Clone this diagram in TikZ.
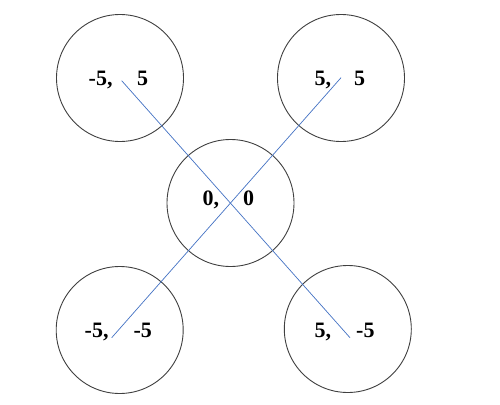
\documentclass[tikz,border=0pt]{standalone}
\usepackage{fontspec}
\setmainfont{Liberation Serif}
\begin{document}
\begin{tikzpicture}[x=1pt,y=-1pt,
  ring/.style={circle,draw=black!75,line width=0.9pt,minimum size=127pt,inner sep=0pt},
  lbl/.style={anchor=base west,inner sep=0pt,font=\bfseries\fontsize{22}{26}\selectfont},
  link/.style={draw={rgb,255:red,68;green,114;blue,196},line width=0.7pt}]
\useasboundingbox (0,0) rectangle (500,404);
\fill[white] (0,0) rectangle (500,404);
\node[ring] (tl) at (120,78) {};
\node[ring] (tr) at (341,78) {};
\node[ring] (c) at (230.5,203) {};
\node[ring] (bl) at (119.7,330) {};
\node[ring] (br) at (347.8,329) {};
\node[lbl] (ttl) at (88.5,85) {-5,\hspace{24.7pt}5};
\node[lbl] (ttr) at (314.5,85) {5,\hspace{23pt}5};
\node[lbl] (tc) at (202.5,205.5) {0,\hspace{24pt}0};
\node[lbl] (tbl) at (84.5,337) {-5,\hspace{25pt}-5};
\node[lbl] (tbr) at (314.5,337) {5,\hspace{25pt}-5};
\coordinate (ptl) at (121.7,80.7);
\coordinate (pbr) at (350,337.7);
\coordinate (ptr) at (341,77.7);
\coordinate (pbl) at (111.7,337.7);
\draw[link] (ptl) -- (pbr);
\draw[link] (ptr) -- (pbl);
\end{tikzpicture}
\end{document}
